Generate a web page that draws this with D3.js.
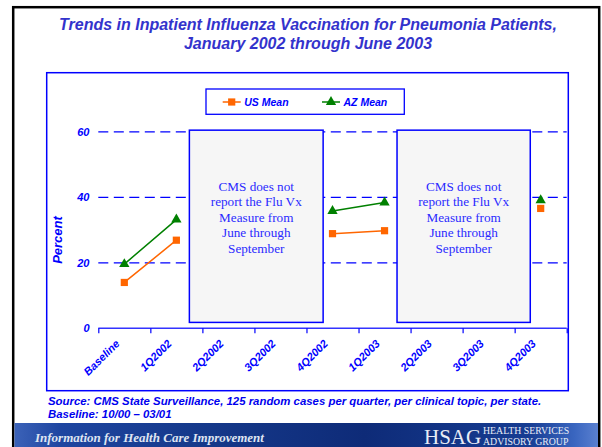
<!DOCTYPE html>
<html><head><meta charset="utf-8">
<script src="https://cdn.jsdelivr.net/npm/d3@7/dist/d3.min.js"></script>
<style>html,body{margin:0;padding:0;background:#fff;overflow:hidden}svg{display:block}</style>
</head><body>
<script>
const categories = ["Baseline","1Q2002","2Q2002","3Q2002","4Q2002","1Q2003","2Q2003","3Q2003","4Q2003"];
const usMean = [14.0, 26.9, null, null, 28.9, 29.8, null, null, 36.6];
const azMean = [19.6, 33.2, null, null, 35.8, 38.4, null, null, 39.1];
const yTicks = [0, 20, 40, 60];
const gridValues = [20, 40, 60];
const titleLines = ["Trends in Inpatient Influenza Vaccination for Pneumonia Patients,", "January 2002 through June 2003"];
const boxText = ["CMS does not", "report the Flu Vx", "Measure from", "June through", "September"];
const notes = [{from: 1.75, to: 4.32}, {from: 5.74, to: 8.3}];
const footer = ["Source: CMS State Surveillance, 125 random cases per quarter, per clinical topic, per state.", "Baseline: 10/00 \u2013 03/01"];

const W = 602, H = 447;
const svg = d3.select("body").append("svg").attr("width", W).attr("height", H);
const defs = svg.append("defs");
const g1 = defs.append("linearGradient").attr("id","banner").attr("x1","0").attr("x2","1").attr("y1","0").attr("y2","0");
[["0%","#3b62b8"],["8%","#1e45a0"],["30%","#163a8c"],["60%","#0e2b78"],["88%","#163c92"],["96%","#3a66c0"],["100%","#5a80d0"]]
  .forEach(([o,c]) => g1.append("stop").attr("offset",o).attr("stop-color",c));

const BLUE = "#0000ff";
const FONT = "'Liberation Sans', Arial, sans-serif";
const SERIF = "'Liberation Serif', 'Times New Roman', serif";

// outer frame
svg.append("rect").attr("x", 13.2).attr("y", 7.2).attr("width", 586).attr("height", 460)
  .attr("fill", "none").attr("stroke", "#000").attr("stroke-width", 2.5);

// title
svg.append("g").selectAll("text").data(titleLines).join("text")
  .attr("x", 308).attr("y", (d,i) => 30 + i*19)
  .attr("text-anchor", "middle").attr("font-family", FONT).attr("font-size", 16)
  .attr("font-weight", "bold").attr("font-style", "italic").attr("fill", "#3333cc").text(d => d);

// chart frame
svg.append("rect").attr("x", 46.7).attr("y", 72.7).attr("width", 521.6).attr("height", 318)
  .attr("fill", "#fff").attr("stroke", BLUE).attr("stroke-width", 1.5);

const x = d3.scaleBand().domain(categories).range([98.3, 566.7]).padding(0);
const xi = d3.scaleLinear().domain([0, categories.length]).range([98.3, 566.7]);
const y = d3.scaleLinear().domain([0, 60]).range([328.3, 131.8]);
const cx = c => x(c) + x.bandwidth()/2;

// gridlines
svg.append("g").selectAll("line").data(gridValues).join("line")
  .attr("x1", 98.3).attr("x2", 566.7).attr("y1", d => y(d)).attr("y2", d => y(d))
  .attr("stroke", BLUE).attr("stroke-width", 1.2).attr("stroke-dasharray", "10,5.5");

// y tick labels
svg.append("g").selectAll("text").data(yTicks).join("text")
  .attr("x", 89.5).attr("y", d => y(d)).attr("dy", "0.35em").attr("text-anchor", "end")
  .attr("font-family", FONT).attr("font-size", 11).attr("font-weight", "bold").attr("font-style", "italic")
  .attr("fill", BLUE).text(d => d);

// y title
svg.append("text").attr("transform", "translate(62,240) rotate(-90)").attr("text-anchor", "middle")
  .attr("font-family", FONT).attr("font-size", 13).attr("font-weight", "bold").attr("font-style", "italic")
  .attr("fill", BLUE).text("Percent");

// x axis
const xAxis = d3.axisBottom(xi).tickValues(d3.range(0, categories.length + 1)).tickSize(5).tickFormat("");
const ax = svg.append("g").attr("transform", `translate(0,${y(0)})`).call(xAxis);
ax.select(".domain").attr("stroke", "#3333ff").attr("stroke-width", 1.6).attr("d", `M${xi(0)},0H${xi(categories.length)}`);
ax.selectAll(".tick line").attr("stroke", BLUE).attr("stroke-width", 1.2);

svg.append("g").selectAll("text").data(categories).join("text")
  .attr("transform", d => `translate(${cx(d) - 4},${y(0) + 16}) rotate(-45)`)
  .attr("text-anchor", "end")
  .attr("font-family", FONT).attr("font-size", 11).attr("font-weight", "bold").attr("font-style", "italic")
  .attr("fill", BLUE).text(d => d);

// annotation boxes
const nb = svg.append("g").selectAll("g").data(notes).join("g");
nb.append("rect").attr("x", d => xi(d.from)).attr("width", d => xi(d.to) - xi(d.from))
  .attr("y", y(60.5)).attr("height", y(1.8) - y(60.5))
  .attr("fill", "#f6f6f6").attr("stroke", BLUE).attr("stroke-width", 1.5);
nb.each(function(d) {
  const mid = (xi(d.from) + xi(d.to)) / 2;
  d3.select(this).selectAll("text").data(boxText).join("text")
    .attr("x", mid).attr("y", (t,i) => 190.5 + i*15.6).attr("text-anchor", "middle")
    .attr("font-family", SERIF).attr("font-size", 13.2).attr("fill", "#2a2aff").text(t => t);
});

// series
const series = [
  {name: "US Mean", values: usMean, color: "#ff6600", marker: "square"},
  {name: "AZ Mean", values: azMean, color: "#008000", marker: "triangle"}
];
const line = d3.line().defined(d => d.v != null).x(d => cx(d.c)).y(d => y(d.v));
const sym = {square: d3.symbol().type(d3.symbolSquare).size(52), triangle: d3.symbol().type(d3.symbolTriangle).size(46)};
series.forEach(s => {
  const pts = categories.map((c,i) => ({c, v: s.values[i]}));
  svg.append("path").datum(pts).attr("d", line).attr("fill", "none").attr("stroke", s.color).attr("stroke-width", 1.5);
  svg.append("g").selectAll("path").data(pts.filter(p => p.v != null)).join("path")
    .attr("transform", p => `translate(${cx(p.c)},${y(p.v)})`).attr("d", sym[s.marker]).attr("fill", s.color);
});

// legend
svg.append("rect").attr("x", 206).attr("y", 89).attr("width", 198.3).attr("height", 25.3)
  .attr("fill", "#fff").attr("stroke", BLUE).attr("stroke-width", 1.3);
const legX = [222.7, 322];
series.forEach((s, i) => {
  const lg = svg.append("g").attr("transform", `translate(${legX[i]},102)`);
  lg.append("line").attr("x1", 0).attr("x2", 18).attr("stroke", s.color).attr("stroke-width", 1.5);
  lg.append("path").attr("transform", "translate(9,0)").attr("d", sym[s.marker]).attr("fill", s.color);
  lg.append("text").attr("x", 21.5).attr("dy", "0.35em").attr("font-family", FONT).attr("font-size", 10.5)
    .attr("font-weight", "bold").attr("font-style", "italic").attr("fill", BLUE).text(s.name);
});

// footer
svg.append("g").selectAll("text").data(footer).join("text")
  .attr("x", 48).attr("y", (d,i) => 405 + i*13.2)
  .attr("font-family", FONT).attr("font-size", 11.4).attr("font-weight", "bold").attr("font-style", "italic")
  .attr("fill", "#0000ee").text(d => d);

// banner
svg.append("rect").attr("x", 14.5).attr("y", 423).attr("width", 583.5).attr("height", 24).attr("fill", "url(#banner)");
svg.append("text").attr("x", 35).attr("y", 441.5).attr("font-family", SERIF).attr("font-size", 13)
  .attr("font-weight", "bold").attr("font-style", "italic").attr("fill", "#dfe5f2")
  .text("Information for Health Care Improvement");
svg.append("text").attr("x", 424).attr("y", 443.5).attr("font-family", SERIF).attr("font-size", 21)
  .attr("fill", "#e8ecf6").text("HSAG");
svg.append("text").attr("x", 483).attr("y", 434).attr("font-family", SERIF).attr("font-size", 9.8)
  .attr("fill", "#e8ecf6").text("HEALTH SERVICES");
svg.append("text").attr("x", 483).attr("y", 445).attr("font-family", SERIF).attr("font-size", 9.8)
  .attr("fill", "#e8ecf6").text("ADVISORY GROUP");
</script>
</body></html>
